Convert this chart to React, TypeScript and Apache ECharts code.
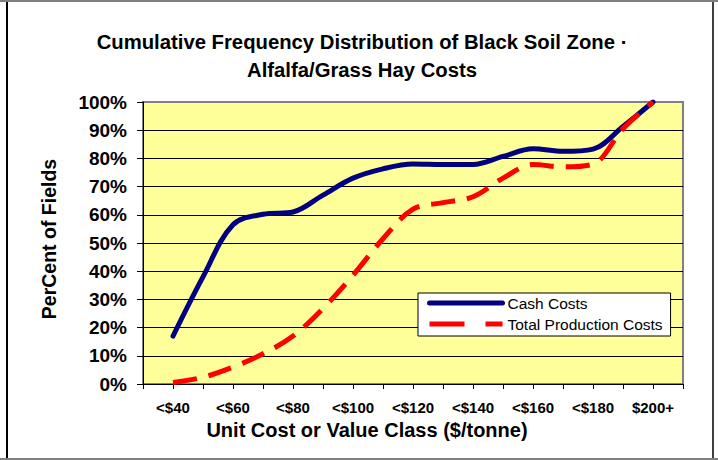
import React, { useEffect, useRef } from "react";
import * as echarts from "echarts";

const categories = [
  "<$40", "<$50", "<$60", "<$70", "<$80", "<$90", "<$100", "<$110", "<$120",
  "<$130", "<$140", "<$150", "<$160", "<$170", "<$180", "<$190", "$200+",
];
const cashCosts = [17, 38, 56.5, 60.2, 61, 67, 73, 76.3, 78, 77.8, 77.8, 80.7, 83.4, 82.5, 83.3, 91.3, 100];
const totalProductionCosts = [0.5, 2.4, 6, 10.7, 17, 26.8, 38.6, 51.5, 62, 64.3, 66.4, 73, 77.8, 77, 78, 90.5, 100];
const yTicks = [0, 10, 20, 30, 40, 50, 60, 70, 80, 90, 100];

const titleLines = ["Cumulative Frequency Distribution of Black Soil Zone ·", "Alfalfa/Grass Hay Costs"];
const xTitle = "Unit Cost or Value Class ($/tonne)";
const yTitle = "PerCent of Fields";

const FONT = "'Liberation Sans', Arial, Helvetica, sans-serif";

export default function App() {
  const ref = useRef<HTMLDivElement>(null);
  useEffect(() => {
    document.body.style.margin = "0";
    const chart = echarts.init(ref.current!, null, { renderer: "svg" });
    const axisData = ["", ...categories, ""];
    const pad = (arr: number[]) => [null, ...arr, null];
    const splitColors = yTicks.map((v) => (v === 100 ? "#808080" : "#000000"));
    chart.setOption({
      animation: false,
      backgroundColor: "#ffffff",
      grid: {
        left: 143,
        right: 35,
        top: 102,
        bottom: 76,
        show: true,
        backgroundColor: "#FFFF99",
        borderColor: "#808080",
        borderWidth: 2,
      },
      xAxis: {
        type: "category",
        data: axisData,
        boundaryGap: false,
        axisLine: { show: true, lineStyle: { color: "#000", width: 1 } },
        axisTick: { show: true, interval: 0, length: 5, lineStyle: { color: "#000" } },
        axisLabel: {
          interval: (i: number) => i % 2 === 1,
          margin: 16,
          fontSize: 15,
          fontWeight: "bold",
          fontFamily: FONT,
          color: "#000",
        },
        splitLine: { show: false },
      },
      yAxis: {
        type: "value",
        min: 0,
        max: 100,
        interval: 10,
        axisLine: { show: true, lineStyle: { color: "#000", width: 1 } },
        axisTick: { show: true, length: 6, lineStyle: { color: "#000" } },
        axisLabel: {
          formatter: "{value}%",
          margin: 16,
          fontSize: 19,
          fontWeight: "bold",
          fontFamily: FONT,
          color: "#000",
        },
        splitLine: { show: true, lineStyle: { color: splitColors, width: 1 } },
      },
      legend: {
        orient: "vertical",
        left: 418,
        top: 293,
        backgroundColor: "#ffffff",
        borderColor: "#000000",
        borderWidth: 1,
        borderRadius: 0,
        padding: [2, 8, 4, 9],
        itemWidth: 73,
        itemHeight: 14,
        itemGap: 5,
        itemStyle: { opacity: 0 },
        lineStyle: { width: 5 },
        textStyle: { fontSize: 15.5, fontFamily: FONT, color: "#000" },
        data: [
          { name: "Cash Costs", lineStyle: { width: 5, cap: "round" } },
          { name: "Total Production Costs", lineStyle: { width: 5, type: [35, 21], cap: "butt" } },
        ],
      },
      series: [
        {
          name: "Cash Costs",
          type: "line",
          data: pad(cashCosts),
          smooth: 0.35,
          symbol: "none",
          lineStyle: { color: "#000080", width: 5, cap: "round" },
          itemStyle: { color: "#000080" },
        },
        {
          name: "Total Production Costs",
          type: "line",
          data: pad(totalProductionCosts),
          smooth: 0.35,
          symbol: "none",
          lineStyle: { color: "#FF0000", width: 5, type: [24, 12], cap: "butt" },
          itemStyle: { color: "#FF0000" },
        },
      ],
      graphic: [
        { type: "line", shape: { x1: 7, y1: 0, x2: 7, y2: 460 }, style: { stroke: "#000", lineWidth: 2 } },
        { type: "line", shape: { x1: 713, y1: 0, x2: 713, y2: 460 }, style: { stroke: "#000", lineWidth: 1.5 } },
        { type: "line", shape: { x1: 0, y1: 1, x2: 718, y2: 1 }, style: { stroke: "#808080", lineWidth: 2 } },
        { type: "line", shape: { x1: 0, y1: 459, x2: 718, y2: 459 }, style: { stroke: "#808080", lineWidth: 2 } },
        {
          type: "text",
          x: 362,
          y: 42,
          style: { text: titleLines[0], fontSize: 20.3, fontWeight: "bold", fontFamily: FONT, fill: "#000", align: "center", verticalAlign: "middle" },
        },
        {
          type: "text",
          x: 362,
          y: 70,
          style: { text: titleLines[1], fontSize: 20.3, fontWeight: "bold", fontFamily: FONT, fill: "#000", align: "center", verticalAlign: "middle" },
        },
        {
          type: "text",
          x: 367,
          y: 430,
          style: { text: xTitle, fontSize: 20, fontWeight: "bold", fontFamily: FONT, fill: "#000", align: "center", verticalAlign: "middle" },
        },
        {
          type: "text",
          x: 49,
          y: 239,
          rotation: Math.PI / 2,
          style: { text: yTitle, fontSize: 19.5, fontWeight: "bold", fontFamily: FONT, fill: "#000", align: "center", verticalAlign: "middle" },
        },
      ],
    });
    return () => chart.dispose();
  }, []);
  return <div ref={ref} style={{ width: 718, height: 460 }} />;
}
